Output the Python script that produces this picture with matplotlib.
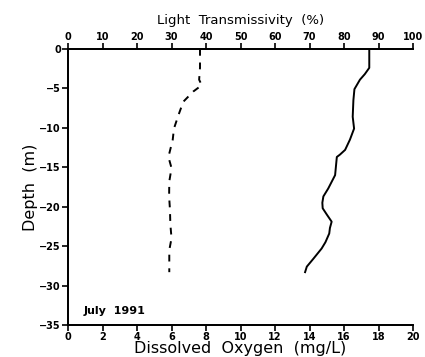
import numpy as np
import matplotlib
matplotlib.use("Agg")
from matplotlib import pyplot as plt

# light transmissivity profile (%), solid line, top axis
trans_depth = [0, -2.4, -3.2, -3.9, -5.1, -6.5, -8.6, -10.1, -11.5, -12.8, -13.4, -13.7,
               -16.0, -17.7, -18.7, -19.5, -20.2, -21.0, -21.9, -22.7, -23.4, -24.5,
               -25.3, -26.6, -27.6, -28.3]
trans_pct = [87.3, 87.3, 86.0, 84.6, 83.0, 82.7, 82.5, 82.9, 81.7, 80.3, 78.8, 77.9,
             77.4, 75.4, 74.0, 73.7, 73.8, 75.0, 76.4, 75.9, 75.7, 74.6,
             73.5, 71.1, 69.2, 68.7]

# dissolved oxygen profile (mg/L), dashed line, bottom axis
do_depth = [0, -2.4, -3.9, -4.6, -5.4, -6.7, -8.4, -10.1, -11.5, -13.7, -15.1,
            -16.8, -18.7, -20.4, -22.2, -24.0, -25.5, -27.8, -28.3]
do_mgl = [7.65, 7.65, 7.6, 7.75, 7.26, 6.68, 6.4, 6.14, 6.07, 5.82, 6.0,
          5.87, 5.86, 5.91, 5.93, 6.0, 5.87, 5.87, 5.87]

plt.rcParams['font.family'] = 'DejaVu Sans'
plt.rcParams['font.weight'] = 'bold'

fig = plt.figure(figsize=(4.25, 3.57), dpi=100)
ax = fig.add_axes([0.16, 0.0896, 0.812, 0.7734])
ax2 = ax.twiny()

ax.plot(do_mgl, do_depth, color='black', lw=1.4, dashes=(3.5, 3.5))
ax2.plot(trans_pct, trans_depth, color='black', lw=1.4)

ax.set_xlim(0, 20)
ax.set_ylim(-35, 0)
ax2.set_xlim(0, 100)

ax.set_xticks(np.arange(0, 21, 2))
ax.set_yticks(np.arange(-35, 1, 5))
ax2.set_xticks(np.arange(0, 101, 10))
ax.set_yticklabels(['\u221235', '\u221230', '\u221225', '\u221220', '\u221215',
                    '\u221210', '\u22125', '0'])

for a in (ax, ax2):
    a.spines['right'].set_visible(False)
    for s in a.spines.values():
        s.set_linewidth(1.3)
    a.tick_params(direction='out', length=4, width=1.2, labelsize=7, pad=1)

ax.set_xlabel('Dissolved  Oxygen  (mg/L)', fontsize=11.5, fontweight='normal', labelpad=-1)
ax.set_ylabel('Depth  (m)', fontsize=11.5, fontweight='normal', labelpad=1)
ax2.set_xlabel('Light  Transmissivity  (%)', fontsize=9.5, fontweight='normal', labelpad=6)

ax.text(0.9, -33.2, 'July  1991', fontsize=8, va='center', ha='left')

fig.savefig('out.png', dpi=100)
